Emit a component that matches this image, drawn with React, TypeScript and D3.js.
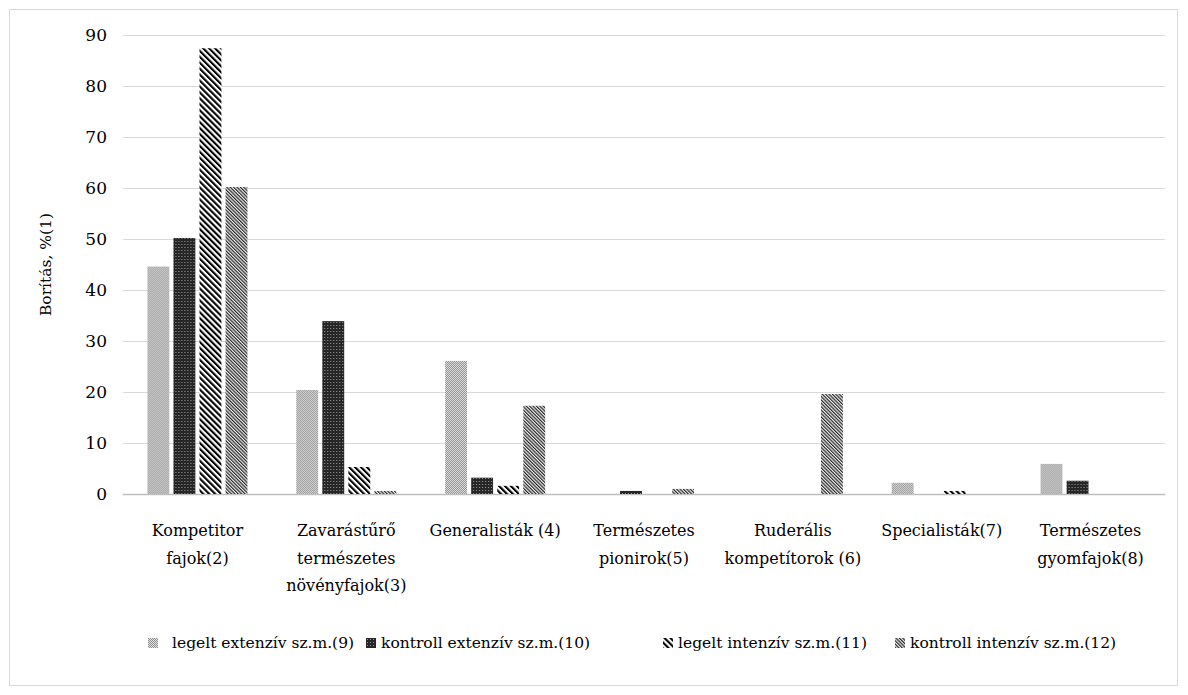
import React from "react";
import * as d3 from "d3";

// Categories (multi-line labels) and series values, cover %
const categories = [
  "Kompetitor fajok(2)",
  "Zavarástűrő természetes növényfajok(3)",
  "Generalisták (4)",
  "Természetes pionirok(5)",
  "Ruderális kompetítorok (6)",
  "Specialisták(7)",
  "Természetes gyomfajok(8)",
];
const categoryLines = [
  ["Kompetitor", "fajok(2)"],
  ["Zavarástűrő", "természetes", "növényfajok(3)"],
  ["Generalisták (4)"],
  ["Természetes", "pionirok(5)"],
  ["Ruderális", "kompetítorok (6)"],
  ["Specialisták(7)"],
  ["Természetes", "gyomfajok(8)"],
];
const seriesNames = [
  "legelt extenzív sz.m.(9)",
  "kontroll extenzív sz.m.(10)",
  "legelt intenzív sz.m.(11)",
  "kontroll intenzív sz.m.(12)",
];
const legeltExtenziv = [44.6, 20.4, 26.1, 0, 0, 2.2, 5.9];
const kontrollExtenziv = [50.2, 33.9, 3.2, 0.6, 0, 0, 2.6];
const legeltIntenziv = [87.4, 5.3, 1.6, 0, 0, 0.6, 0];
const kontrollIntenziv = [60.2, 0.6, 17.3, 1.0, 19.6, 0, 0];
const yTicks = [0, 10, 20, 30, 40, 50, 60, 70, 80, 90];

const seriesValues = [legeltExtenziv, kontrollExtenziv, legeltIntenziv, kontrollIntenziv];
const patternIds = ["pLegExt", "pKonExt", "pLegInt", "pKonInt"];

const W = 1188;
const H = 695;
const plot = { left: 123, right: 1165, top: 35, bottom: 494 };
const FONT = "DejaVu Serif, serif";
const baseText = { fontFamily: FONT, fill: "#000" };

export default function App() {
  const y = d3.scaleLinear().domain([0, 90]).range([plot.bottom, plot.top]);
  const x0 = d3
    .scaleBand<string>()
    .domain(categories)
    .range([plot.left, plot.right])
    .paddingInner(0.328)
    .paddingOuter(0.164);
  const x1 = d3
    .scaleBand<number>()
    .domain([0, 1, 2, 3])
    .range([0, x0.bandwidth()])
    .paddingInner(0.16);

  const legendX = [148, 366, 663, 895];

  return (
    <svg
      width={W}
      height={H}
      style={{ position: "absolute", left: 0, top: 0, background: "#fff", fontFamily: FONT }}
    >
      <defs>
        {/* light grey checker */}
        <pattern id="pLegExt" width={2} height={2} patternUnits="userSpaceOnUse">
          <rect width={2} height={2} fill="#e4e4e4" />
          <rect width={1} height={1} fill="#8c8c8c" />
          <rect x={1} y={1} width={1} height={1} fill="#8c8c8c" />
        </pattern>
        {/* dark grid with light dots */}
        <pattern id="pKonExt" width={3} height={3} patternUnits="userSpaceOnUse">
          <rect width={3} height={3} fill="#262626" />
          <rect x={1} y={1} width={1} height={1} fill="#9a9a9a" />
        </pattern>
        {/* black/white diagonal stripes */}
        <pattern
          id="pLegInt"
          width={4.2}
          height={4.2}
          patternUnits="userSpaceOnUse"
          patternTransform="rotate(-45)"
        >
          <rect width={4.2} height={4.2} fill="#fff" />
          <rect width={2.1} height={4.2} fill="#000" />
        </pattern>
        {/* fine diagonal stripes */}
        <pattern
          id="pKonInt"
          width={2.4}
          height={2.4}
          patternUnits="userSpaceOnUse"
          patternTransform="rotate(-45)"
        >
          <rect width={2.4} height={2.4} fill="#f0f0f0" />
          <rect width={1.2} height={2.4} fill="#262626" />
        </pattern>
      </defs>

      {/* chart frame */}
      <rect x={9.5} y={9.5} width={1168} height={676} fill="#fff" stroke="#d9d9d9" />

      {/* gridlines */}
      {yTicks.map((t) => (
        <line
          key={t}
          x1={plot.left}
          x2={plot.right}
          y1={Math.round(y(t)) + 0.5}
          y2={Math.round(y(t)) + 0.5}
          stroke={t === 0 ? "#bfbfbf" : "#d9d9d9"}
          strokeWidth={t === 0 ? 1.5 : 1}
        />
      ))}

      {/* y tick labels */}
      {yTicks.map((t) => (
        <text
          key={t}
          x={107}
          y={y(t)}
          dy="0.35em"
          textAnchor="end"
          style={{ ...baseText, fontSize: 17 }}
        >
          {t}
        </text>
      ))}

      {/* y axis title */}
      <text
        transform={`translate(51, ${(plot.top + plot.bottom) / 2}) rotate(-90)`}
        textAnchor="middle"
        style={{ ...baseText, fontSize: 15.5 }}
      >
        Borítás, %(1)
      </text>

      {/* bars */}
      {categories.map((c, ci) => (
        <g key={c} transform={`translate(${x0(c)},0)`}>
          {seriesValues.map((vals, si) =>
            vals[ci] > 0 ? (
              <rect
                key={si}
                x={x1(si)}
                y={y(vals[ci])}
                width={x1.bandwidth()}
                height={plot.bottom - y(vals[ci])}
                fill={`url(#${patternIds[si]})`}
              />
            ) : null
          )}
        </g>
      ))}

      {/* category labels */}
      {categories.map((c, ci) => {
        const cx = (x0(c) as number) + x0.bandwidth() / 2;
        return (
          <text
            key={c}
            x={cx}
            y={536}
            textAnchor="middle"
            style={{ ...baseText, fontSize: 16 }}
          >
            {categoryLines[ci].map((ln, li) => (
              <tspan key={li} x={cx} dy={li === 0 ? 0 : 27.5}>
                {ln}
              </tspan>
            ))}
          </text>
        );
      })}

      {/* legend */}
      {seriesNames.map((s, si) => (
        <g key={s} transform={`translate(${legendX[si]}, 638)`}>
          <rect width={10} height={10} fill={`url(#${patternIds[si]})`} />
          <text
            x={si === 0 ? 24 : 15}
            y={5}
            dy="0.35em"
            style={{ ...baseText, fontSize: 15.5 }}
          >
            {s}
          </text>
        </g>
      ))}
    </svg>
  );
}
